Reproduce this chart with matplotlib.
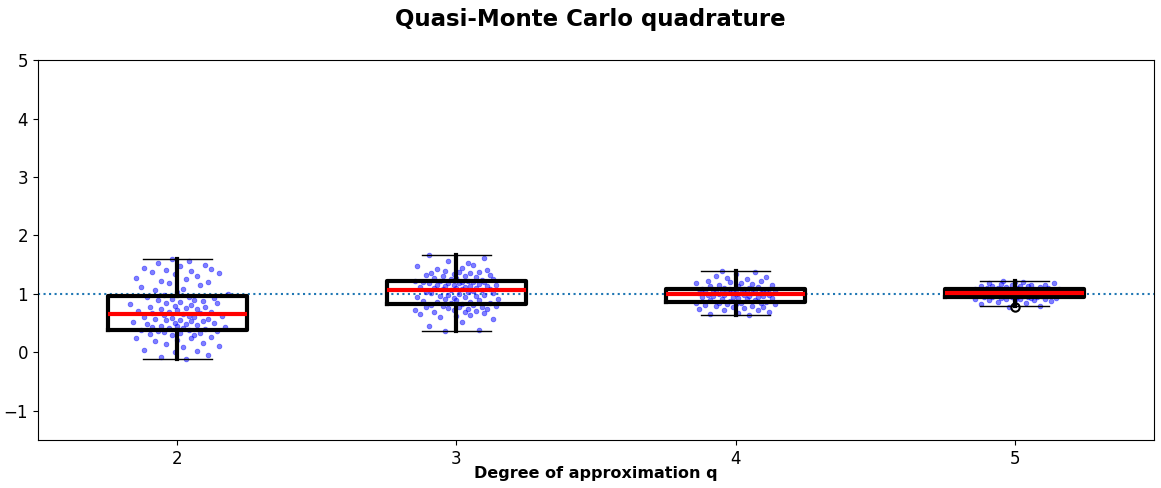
import matplotlib
matplotlib.use("Agg")
import matplotlib.pyplot as plt

degrees = [2, 3, 4, 5]

# box statistics
q1s = [0.39, 0.82, 0.86, 0.94]
medians = [0.65, 1.07, 1.005, 1.02]
q3s = [0.96, 1.23, 1.09, 1.09]
whislo = [-0.11, 0.36, 0.645, 0.80]
whishi = [1.59, 1.67, 1.40, 1.215]
fliers = [[], [], [], [0.77]]

# sample values per degree
vals_q2 = [-0.11, -0.08, -0.05, 0.0, 0.02, 0.05, 0.09, 0.11, 0.14, 0.17,
           0.19, 0.21, 0.24, 0.25, 0.27, 0.29, 0.30, 0.31, 0.33, 0.34,
           0.35, 0.36, 0.37, 0.38, 0.38, 0.40, 0.41, 0.42, 0.43, 0.44,
           0.45, 0.46, 0.47, 0.48, 0.49, 0.50, 0.51, 0.52, 0.53, 0.54,
           0.55, 0.56, 0.57, 0.58, 0.59, 0.60, 0.61, 0.62, 0.63, 0.64,
           0.66, 0.67, 0.68, 0.69, 0.70, 0.71, 0.72, 0.74, 0.75, 0.76,
           0.77, 0.78, 0.80, 0.81, 0.82, 0.84, 0.85, 0.86, 0.88, 0.89,
           0.90, 0.92, 0.93, 0.94, 0.95, 0.98, 1.00, 1.03, 1.06, 1.09,
           1.12, 1.15, 1.18, 1.20, 1.23, 1.26, 1.28, 1.31, 1.34, 1.36,
           1.38, 1.39, 1.41, 1.43, 1.45, 1.48, 1.50, 1.53, 1.56, 1.59]
vals_q3 = [0.36, 0.38, 0.45, 0.52, 0.57, 0.60, 0.62, 0.64, 0.66, 0.68,
           0.69, 0.70, 0.71, 0.72, 0.73, 0.74, 0.75, 0.76, 0.77, 0.78,
           0.78, 0.79, 0.80, 0.81, 0.81, 0.83, 0.84, 0.85, 0.86, 0.87,
           0.88, 0.89, 0.90, 0.91, 0.92, 0.93, 0.94, 0.95, 0.96, 0.97,
           0.98, 0.99, 1.00, 1.01, 1.02, 1.03, 1.04, 1.05, 1.06, 1.06,
           1.08, 1.08, 1.09, 1.10, 1.10, 1.11, 1.12, 1.12, 1.13, 1.14,
           1.14, 1.15, 1.16, 1.16, 1.17, 1.18, 1.18, 1.19, 1.20, 1.20,
           1.21, 1.21, 1.22, 1.22, 1.23, 1.24, 1.25, 1.26, 1.27, 1.28,
           1.29, 1.30, 1.31, 1.32, 1.33, 1.34, 1.35, 1.36, 1.37, 1.38,
           1.40, 1.41, 1.43, 1.45, 1.47, 1.50, 1.53, 1.56, 1.61, 1.67]
vals_q4 = [0.645, 0.66, 0.68, 0.70, 0.72, 0.73, 0.75, 0.76, 0.77, 0.78,
           0.79, 0.80, 0.81, 0.82, 0.82, 0.83, 0.84, 0.84, 0.85, 0.85,
           0.87, 0.88, 0.89, 0.90, 0.91, 0.92, 0.93, 0.93, 0.94, 0.95,
           0.95, 0.96, 0.97, 0.97, 0.98, 0.98, 0.99, 0.99, 1.00, 1.00,
           1.01, 1.01, 1.02, 1.02, 1.03, 1.03, 1.04, 1.04, 1.05, 1.05,
           1.05, 1.06, 1.06, 1.07, 1.07, 1.07, 1.08, 1.08, 1.08, 1.09,
           1.10, 1.11, 1.12, 1.13, 1.14, 1.15, 1.16, 1.17, 1.18, 1.19,
           1.20, 1.22, 1.23, 1.25, 1.27, 1.29, 1.31, 1.34, 1.37, 1.40]
vals_q5 = [0.77, 0.80, 0.83, 0.85, 0.87, 0.88, 0.89, 0.90, 0.90, 0.91,
           0.91, 0.92, 0.92, 0.93, 0.93, 0.93, 0.94, 0.94, 0.94, 0.94,
           0.95, 0.95, 0.96, 0.96, 0.97, 0.97, 0.97, 0.98, 0.98, 0.98,
           0.99, 0.99, 0.99, 1.00, 1.00, 1.00, 1.01, 1.01, 1.01, 1.02,
           1.02, 1.03, 1.03, 1.03, 1.04, 1.04, 1.04, 1.05, 1.05, 1.05,
           1.06, 1.06, 1.06, 1.07, 1.07, 1.07, 1.08, 1.08, 1.08, 1.09,
           1.09, 1.10, 1.10, 1.11, 1.11, 1.12, 1.12, 1.13, 1.13, 1.14,
           1.14, 1.15, 1.15, 1.16, 1.17, 1.18, 1.19, 1.20, 1.21, 1.215]

# horizontal jitter of each sample around its degree
jit_q2 = [0.03, -0.06, 0.11, -0.01, 0.07, -0.12, 0.02, 0.15, -0.04, 0.09,
          -0.08, 0.00, 0.05, -0.15, 0.12, -0.02, 0.06, -0.10, 0.01, 0.08,
          -0.05, 0.14, -0.07, 0.04, -0.13, 0.10, -0.03, 0.02, -0.09, 0.17,
          0.00, -0.06, 0.07, -0.11, 0.03, 0.13, -0.01, -0.16, 0.05, 0.09,
          -0.04, 0.01, -0.08, 0.11, -0.02, 0.06, -0.12, 0.04, 0.16, -0.05,
          0.02, -0.09, 0.08, -0.03, 0.12, -0.14, 0.00, 0.07, -0.06, 0.03,
          -0.10, 0.10, -0.01, 0.05, -0.17, 0.14, -0.04, 0.01, 0.09, -0.07,
          0.06, -0.02, 0.13, -0.11, 0.04, -0.05, 0.18, 0.00, -0.08, 0.02,
          -0.13, 0.08, -0.03, 0.11, -0.06, 0.03, -0.15, 0.07, -0.01, 0.15,
          -0.09, 0.05, -0.04, 0.12, -0.12, 0.01, 0.10, -0.07, 0.04, -0.02]
jit_q3 = [-0.04, 0.08, -0.10, 0.02, 0.13, -0.06, 0.00, 0.05, -0.13, 0.10,
          0.03, -0.08, 0.07, -0.01, -0.15, 0.11, 0.04, -0.03, 0.09, -0.11,
          0.01, 0.14, -0.05, 0.06, -0.09, 0.02, -0.02, 0.12, -0.07, 0.05,
          -0.12, 0.08, 0.00, -0.04, 0.15, -0.01, 0.03, -0.14, 0.07, -0.06,
          0.10, -0.03, 0.01, -0.09, 0.13, 0.04, -0.11, 0.06, -0.02, 0.09,
          -0.05, 0.02, 0.12, -0.08, 0.00, 0.07, -0.13, 0.03, -0.04, 0.11,
          0.05, -0.07, 0.14, -0.01, 0.08, -0.10, 0.01, -0.03, 0.06, -0.12,
          0.10, 0.02, -0.06, 0.04, -0.15, 0.09, -0.02, 0.13, -0.08, 0.00,
          0.07, -0.05, 0.03, -0.11, 0.12, -0.01, 0.05, -0.09, 0.01, 0.08,
          -0.04, 0.11, -0.07, 0.02, -0.14, 0.06, 0.04, -0.03, 0.10, -0.10]
jit_q4 = [0.05, -0.09, 0.01, 0.12, -0.04, 0.08, -0.13, 0.03, -0.01, 0.10,
          -0.07, 0.06, -0.11, 0.00, 0.14, -0.03, 0.09, -0.06, 0.02, -0.14,
          0.11, -0.02, 0.07, -0.09, 0.04, -0.05, 0.13, 0.01, -0.12, 0.08,
          -0.01, 0.05, -0.08, 0.10, -0.04, 0.03, -0.10, 0.12, 0.00, -0.06,
          0.09, -0.13, 0.02, 0.06, -0.03, 0.11, -0.07, 0.04, -0.01, 0.14,
          -0.11, 0.07, -0.05, 0.00, 0.10, -0.08, 0.03, -0.02, 0.12, -0.12,
          0.05, -0.04, 0.08, -0.09, 0.01, 0.13, -0.06, 0.06, -0.14, 0.02,
          -0.02, 0.09, -0.10, 0.04, -0.03, 0.11, -0.07, 0.00, 0.07, -0.05]
jit_q5 = [-0.02, 0.09, -0.12, 0.04, -0.06, 0.13, 0.00, -0.09, 0.07, -0.03,
          0.11, -0.14, 0.02, 0.06, -0.05, 0.15, -0.08, 0.01, -0.11, 0.08,
          -0.01, 0.05, -0.15, 0.10, -0.04, 0.03, 0.12, -0.07, 0.00, -0.10,
          0.07, -0.02, 0.14, -0.06, 0.04, -0.13, 0.09, -0.03, 0.01, -0.08,
          0.11, 0.05, -0.12, 0.02, -0.05, 0.08, -0.01, 0.13, -0.09, 0.06,
          -0.04, 0.00, 0.10, -0.11, 0.03, -0.07, 0.16, -0.02, 0.07, -0.14,
          0.04, -0.06, 0.12, 0.01, -0.10, 0.09, -0.03, 0.05, -0.08, 0.02,
          -0.12, 0.11, -0.01, 0.06, -0.05, 0.14, -0.09, 0.03, 0.00, -0.04]

samples = [vals_q2, vals_q3, vals_q4, vals_q5]
jitters = [jit_q2, jit_q3, jit_q4, jit_q5]
exact_value = 1.0

fig = plt.figure(figsize=(11.61, 4.88), dpi=100)
ax = fig.add_axes([0.0327, 0.098, 0.9613, 0.779])

for d, vals, jit in zip(degrees, samples, jitters):
    xs = [d + j for j in jit]
    ax.scatter(xs, vals, s=12, color="blue", alpha=0.5, linewidths=0.5, zorder=2)

stats = []
for i in range(len(degrees)):
    stats.append({"med": medians[i], "q1": q1s[i], "q3": q3s[i],
                  "whislo": whislo[i], "whishi": whishi[i], "fliers": fliers[i]})

ax.bxp(stats, positions=degrees, widths=0.5, showfliers=True,
       boxprops=dict(color="black", linewidth=3),
       whiskerprops=dict(color="black", linewidth=3),
       capprops=dict(color="black", linewidth=1),
       medianprops=dict(color="red", linewidth=3),
       flierprops=dict(marker="o", markerfacecolor="none", markeredgecolor="black",
                       markersize=6, markeredgewidth=1.5),
       zorder=3)

ax.axhline(exact_value, linestyle=":", color="tab:blue", linewidth=1.5, zorder=1)

ax.set_xlim(1.5, 5.5)
ax.set_ylim(-1.5, 5)
ax.set_xticks(degrees)
ax.set_xticklabels([str(d) for d in degrees])
ax.set_yticks([-1, 0, 1, 2, 3, 4, 5])
ax.tick_params(labelsize=12)
ax.set_xlabel("Degree of approximation q", fontsize=11.5, fontweight="bold")
ax.xaxis.set_label_coords(0.5, -0.087)
ax.xaxis.label.set_verticalalignment("center")
fig.suptitle("Quasi-Monte Carlo quadrature", fontsize=16.5, fontweight="bold",
             x=0.5086, y=0.96, va="center")

plt.savefig("out.png", dpi=100)
